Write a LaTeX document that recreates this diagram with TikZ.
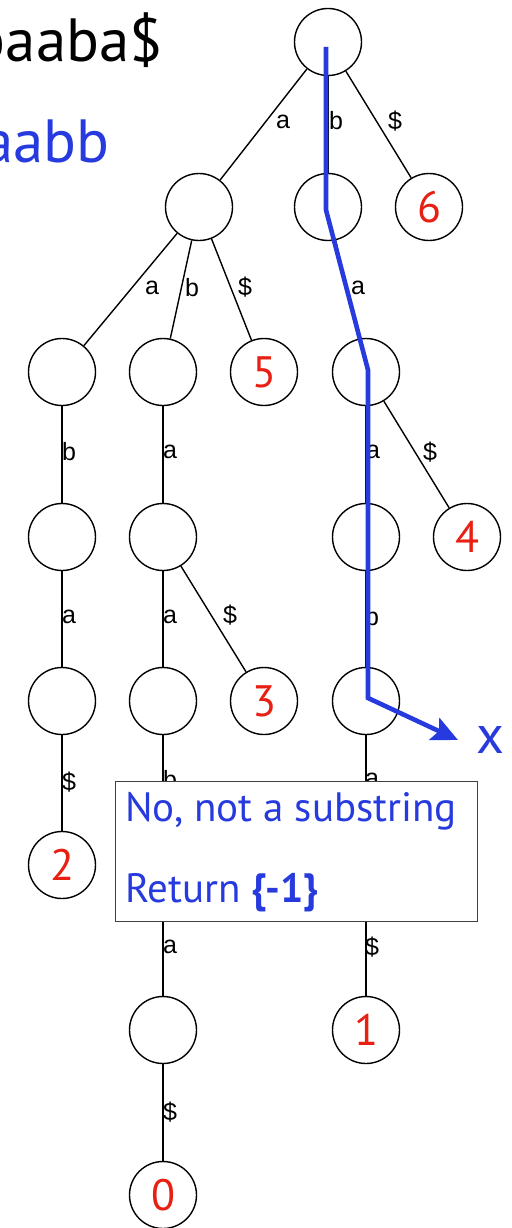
\documentclass[tikz,border=0pt]{standalone}
\usepackage{fontspec}
\setmainfont{PT Sans}
\newfontfamily\labfont{Liberation Sans}
\usetikzlibrary{arrows.meta}
\definecolor{pblue}{RGB}{38,58,222}
\definecolor{nred}{RGB}{232,32,20}
\tikzset{
  nd/.style={circle, draw=black, line width=1.4pt, minimum size=67pt, inner sep=0pt, fill=white, text=nred, font=\fontsize{44}{44}\selectfont},
  ed/.style={draw=black, line width=1.4pt},
  lab/.style={inner sep=0pt, font=\labfont\fontsize{25}{25}\selectfont},
  big/.style={inner sep=0pt, font=\fontsize{61}{61}\selectfont},
  path/.style={draw=pblue, line width=4.6pt, line join=miter},
  msg/.style={inner sep=0pt, anchor=base west, text=pblue, font=\fontsize{41}{41}\selectfont},
}
\begin{document}
\begin{tikzpicture}[x=1pt,y=-1pt]
\useasboundingbox (0,0) rectangle (511,1228);
\clip (0,0) rectangle (511,1228);
% top texts
\node[big, anchor=base east] (t) at (163,62) {abaaba\$};
\node[big, anchor=base east, text=pblue] (p) at (110,162) {baabb};
% nodes
\node[nd] (r) at (328,42) {};
\node[nd] (A) at (199,207) {};
\node[nd] (B) at (328,207) {};
\node[nd] (n6) at (429,207) {6};
\node[nd] (AA) at (62,372) {};
\node[nd] (AB) at (163,372) {};
\node[nd] (n5) at (264,372) {5};
\node[nd] (BA) at (366,372) {};
\node[nd] (AAB) at (62,537) {};
\node[nd] (ABA) at (163,537) {};
\node[nd] (BAA) at (366,537) {};
\node[nd] (n4) at (467,537) {4};
\node[nd] (AABA) at (62,701) {};
\node[nd] (ABAA) at (163,701) {};
\node[nd] (n3) at (264,701) {3};
\node[nd] (BAAB) at (366,701) {};
\node[nd] (n2) at (62,865) {2};
\node[nd] (ABAAB) at (163,865) {};
\node[nd] (BAABA) at (366,865) {};
\node[nd] (ABAABA) at (163,1030) {};
\node[nd] (n1) at (366,1030) {1};
\node[nd] (n0) at (163,1195) {0};
% edges
\foreach \a/\b in {r/A,r/B,r/n6,A/AA,A/AB,A/n5,B/BA,AA/AAB,AB/ABA,BA/BAA,BA/n4,AAB/AABA,ABA/ABAA,ABA/n3,BAA/BAAB,AABA/n2,ABAA/ABAAB,BAAB/BAABA,ABAAB/ABAABA,BAABA/n1,ABAABA/n0}
  \path[ed] (\a) -- (\b);
% edge labels
\node[lab] (l1) at (283,122) {a};
\node[lab] (l2) at (336,121) {b};
\node[lab] (l3) at (395,121) {\$};
\node[lab] (l4) at (152,288) {a};
\node[lab] (l5) at (192,288) {b};
\node[lab] (l6) at (245,287) {\$};
\node[lab] (l7) at (358,288) {a};
\node[lab] (l8) at (69,452) {b};
\node[lab] (l9) at (170,452) {a};
\node[lab] (l10) at (373,452) {a};
\node[lab] (l11) at (430,452) {\$};
\node[lab] (l12) at (69,617) {a};
\node[lab] (l13) at (170,617) {a};
\node[lab] (l14) at (230,615) {\$};
\node[lab] (l15) at (372,617) {b};
\node[lab] (l16) at (69,782) {\$};
\node[lab] (l17) at (170,780) {b};
\node[lab] (l18) at (372,780) {a};
\node[lab] (l19) at (170,947) {a};
\node[lab] (l20) at (372,947) {\$};
\node[lab] (l21) at (170,1112) {\$};
% blue search path
\coordinate (c0) at (326,47);
\coordinate (c1) at (326,210);
\coordinate (c2) at (368,370);
\coordinate (c3) at (368,698);
\coordinate (c4) at (458,740);
\draw[path, -{Stealth[length=26pt,width=24pt,inset=5pt]}] (c0) -- (c1) -- (c2) -- (c3) -- (c4);
\node[inner sep=0pt, text=pblue, font=\fontsize{54}{54}\selectfont, anchor=base] (x) at (490,753) {x};
% message box
\node[draw=black!75, line width=1.4pt, fill=white, minimum width=362pt, minimum height=140pt, anchor=north west, inner sep=0pt] (box) at (115,781) {};
\node[msg] (m1) at (125,821) {No, not a substring};
\node[msg] (m2) at (125,902) {Return \textbf{\{-1\}}};
\end{tikzpicture}
\end{document}
